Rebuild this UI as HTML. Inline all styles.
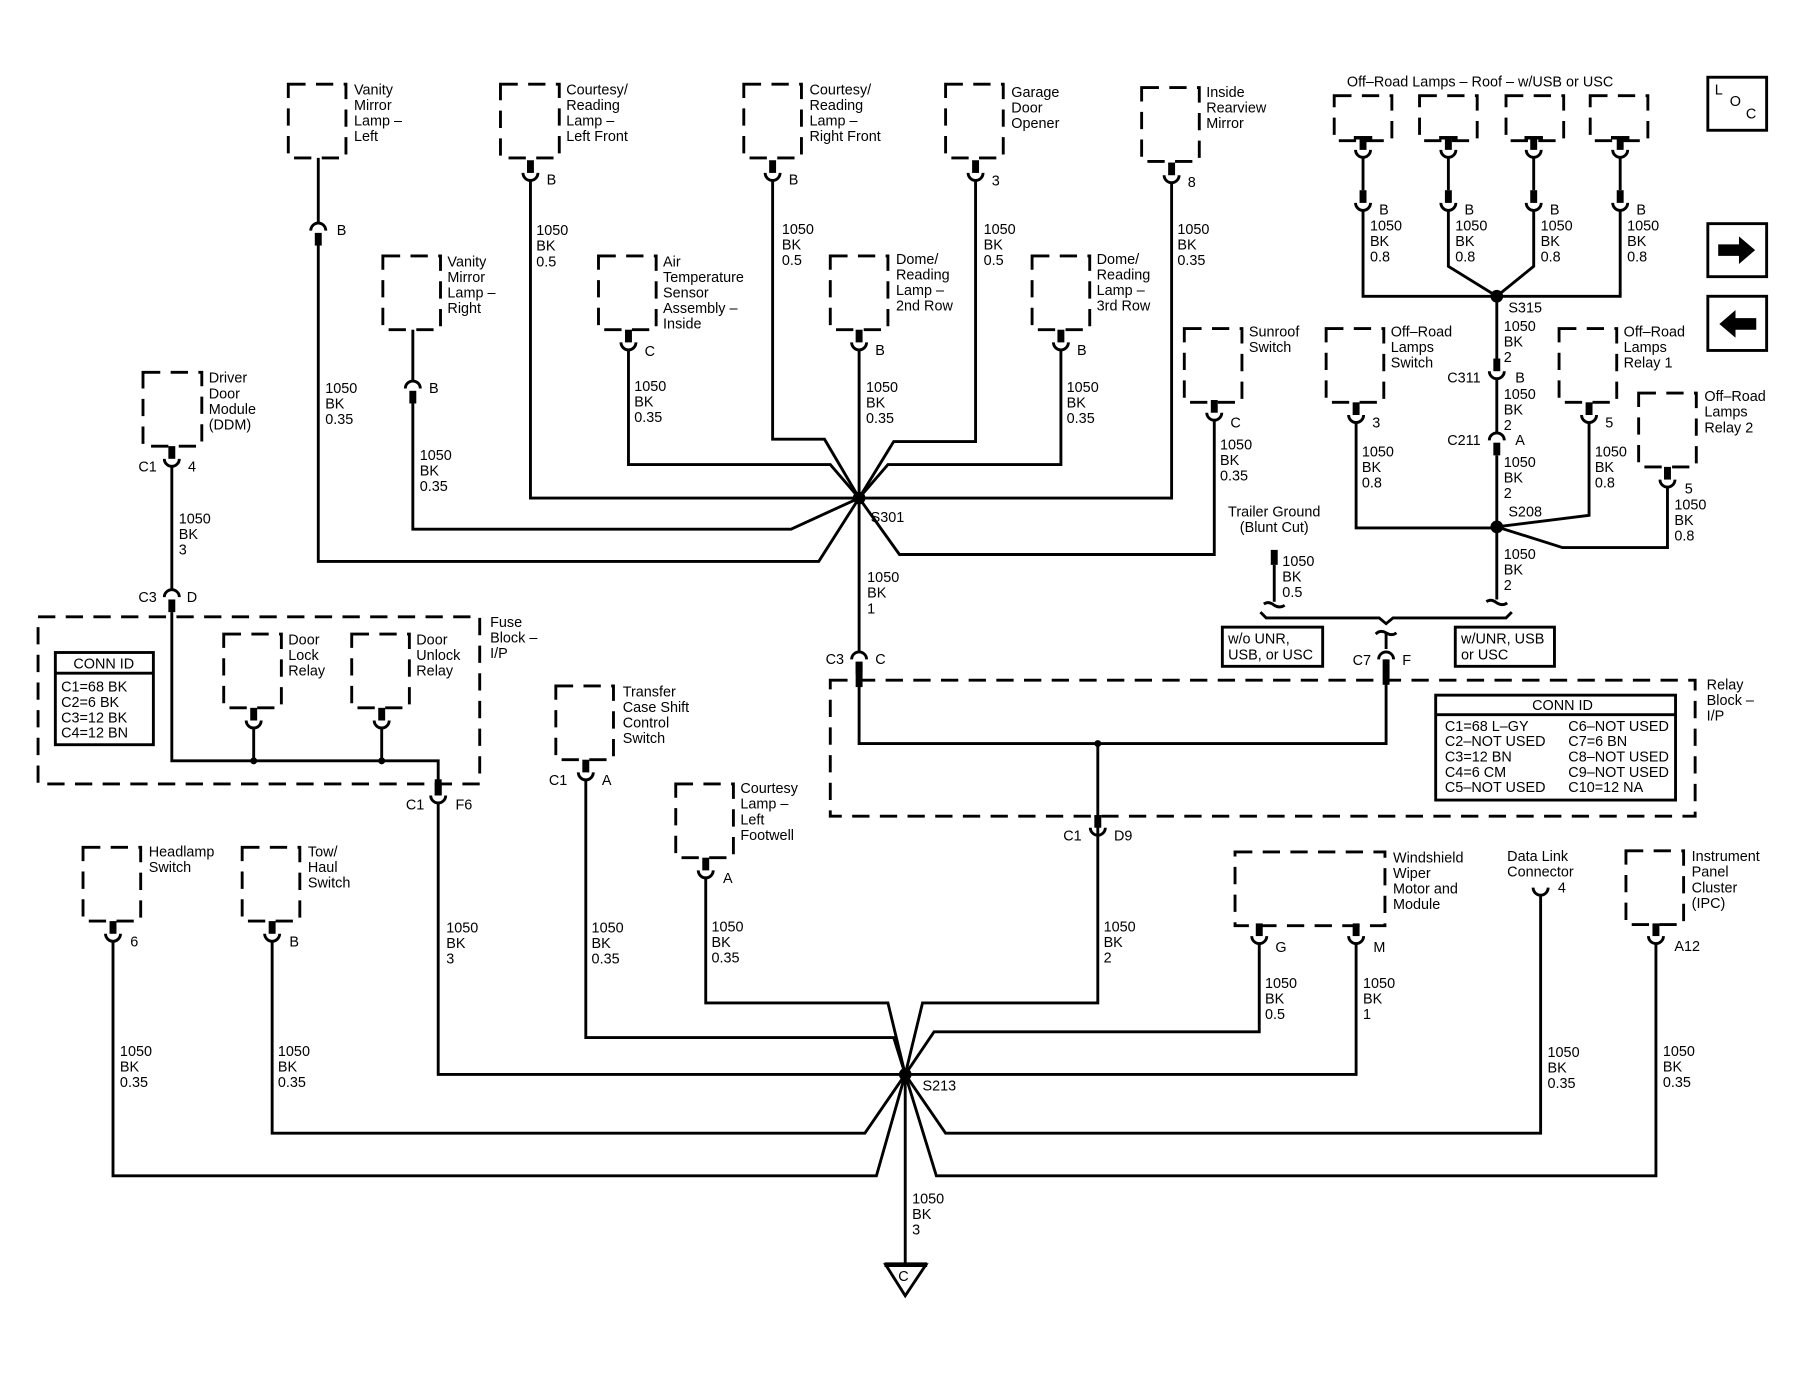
<!DOCTYPE html>
<html><head><meta charset="utf-8"><style>
html,body{margin:0;padding:0;background:#fff}
svg{display:block}
text{font-family:"Liberation Sans",Arial,sans-serif;font-size:12.5px;fill:#000}
</style></head><body>
<svg width="1807" height="1373" viewBox="0 0 1567 1191" preserveAspectRatio="none" xmlns="http://www.w3.org/2000/svg">
<defs>
<g id="U"><rect x="-3" y="-11" width="6" height="11"/><path d="M-6.5,0 A6.5,6.5 0 0 0 6.5,0" fill="none" stroke="#000" stroke-width="2.5"/></g>
<g id="UT"><rect x="-3" y="-11" width="6" height="11"/><rect x="-8" y="-12" width="16" height="3"/><path d="M-6.5,0 A6.5,6.5 0 0 0 6.5,0" fill="none" stroke="#000" stroke-width="2.5"/></g>
<g id="N"><path d="M-6.5,0 A6.5,6.5 0 0 1 6.5,0" fill="none" stroke="#000" stroke-width="2.5"/><rect x="-3" y="2" width="6" height="11"/></g>
</defs>
<g fill="none" stroke="#000" stroke-width="2.5" stroke-dasharray="15 9">
<rect x="250" y="73" width="50" height="64"/>
<rect x="434" y="73" width="51" height="64"/>
<rect x="645" y="73" width="50" height="64"/>
<rect x="820" y="73" width="50" height="64"/>
<rect x="990" y="76" width="50" height="64"/>
<rect x="332" y="222" width="50" height="64"/>
<rect x="519" y="222" width="50" height="64"/>
<rect x="720" y="222" width="50" height="64"/>
<rect x="895" y="222" width="50" height="64"/>
<rect x="1027" y="285" width="50" height="64"/>
<rect x="1150" y="285" width="50" height="64"/>
<rect x="1352" y="285" width="50" height="64"/>
<rect x="1421" y="341" width="50" height="64"/>
<rect x="1157" y="83" width="50" height="39"/>
<rect x="1231" y="83" width="50" height="39"/>
<rect x="1306" y="83" width="50" height="39"/>
<rect x="1379" y="83" width="50" height="39"/>
<rect x="124" y="323" width="51" height="64"/>
<rect x="33" y="535" width="383" height="145"/>
<rect x="194" y="550" width="50" height="64"/>
<rect x="305" y="550" width="50" height="64"/>
<rect x="482" y="595" width="50" height="64"/>
<rect x="586" y="680" width="50" height="64"/>
<rect x="72" y="735" width="50" height="64"/>
<rect x="210" y="735" width="50" height="64"/>
<rect x="1071" y="739" width="130" height="64"/>
<rect x="1410" y="738" width="50" height="64"/>
<rect x="720" y="590" width="750" height="118"/>
</g>
<g fill="none" stroke="#000" stroke-width="2.5" stroke-linejoin="miter">
<polyline points="276,137 276,194"/>
<polyline points="276,213 276,487 710,487 745,432"/>
<polyline points="460,156 460,432 745,432"/>
<polyline points="358,286 358,331"/>
<polyline points="358,350 358,459 686,459 745,432"/>
<polyline points="545,303 545,403 720,403 745,432"/>
<polyline points="670,156 670,381 715,381 745,432"/>
<polyline points="745,303 745,566"/>
<polyline points="846,156 846,383 775,383 745,432"/>
<polyline points="920,303 920,403 770,403 745,432"/>
<polyline points="1016,158 1016,432 745,432"/>
<polyline points="1053,364 1053,481 780,481 745,432"/>
<polyline points="745,585 745,645 1202,645 1202,572"/>
<polyline points="1202,563 1202,549"/>
<polyline points="952,645 952,724 952,870 800,870 785,932"/>
<polyline points="149,404 149,512"/>
<polyline points="149,531 149,660 380,660 380,680"/>
<polyline points="220,631 220,660"/>
<polyline points="331,631 331,660"/>
<polyline points="380,696 380,932 785,932"/>
<polyline points="508,676 508,900 775,900 785,932"/>
<polyline points="612,761 612,870 770,870 785,932"/>
<polyline points="98,816 98,1020 760,1020 785,932"/>
<polyline points="236,816 236,983 750,983 785,932"/>
<polyline points="1092,818 1092,895 810,895 785,932"/>
<polyline points="1176,818 1176,932 785,932"/>
<polyline points="1336,776 1336,983 820,983 785,932"/>
<polyline points="1436,818 1436,1020 812,1020 785,932"/>
<polyline points="785,932 785,1096"/>
<path d="M1329.5,770 A6.5,6.5 0 0 0 1342.5,770"/>
<polyline points="1182,136 1182,165"/>
<polyline points="1256,136 1256,165"/>
<polyline points="1330,136 1330,165"/>
<polyline points="1405,136 1405,165"/>
<polyline points="1182,182 1182,257 1405,257 1405,182"/>
<polyline points="1256,182 1256,231 1298,257 1330,231 1330,182"/>
<polyline points="1298,257 1298,311"/>
<polyline points="1298,328 1298,376"/>
<polyline points="1298,395 1298,520"/>
<polyline points="1176,366 1176,458 1298,458"/>
<polyline points="1378,366 1378,447 1298,457"/>
<polyline points="1446,422 1446,475 1355,475 1298,457"/>
<polyline points="1105,490 1105,522"/>
<path d="M1096,524 q4,-3 9,1 q5,3 9,0"/>
<path d="M1289,522 q4,-3 9,1 q5,3 9,0"/>
<path d="M1193,550 q4,-4 9,-1 q5,3 9,0"/>
<polyline points="1093,531 1098,536 1196,536 1202,541 1208,536 1306,536 1311,531"/>
<polygon points="768,1097 803,1097 785,1124"/>
<line x1="767" y1="1097" x2="804" y2="1097" stroke-width="4"/>
<rect x="1481" y="67" width="51" height="46"/>
<rect x="1481" y="194" width="51" height="46"/>
<rect x="1481" y="257" width="51" height="47"/>
<rect x="48" y="566" width="85" height="80"/>
<line x1="48" y1="584" x2="133" y2="584"/>
<rect x="1245" y="603" width="208" height="91"/>
<line x1="1245" y1="620" x2="1453" y2="620"/>
</g>
<rect x="1102" y="477" width="6" height="13"/>
<rect x="742" y="574" width="6" height="22"/>
<rect x="1199" y="572" width="6" height="22"/>
<rect x="377" y="676" width="6" height="14"/>
<rect x="949" y="707" width="6" height="11"/>
<path d="M945.5,718 A6.5,6.5 0 0 0 958.5,718" fill="none" stroke="#000" stroke-width="2.5"/>
<use href="#N" x="276" y="200"/>
<use href="#U" x="460" y="150"/>
<use href="#N" x="358" y="337"/>
<use href="#U" x="545" y="297"/>
<use href="#U" x="670" y="150"/>
<use href="#U" x="745" y="297"/>
<use href="#U" x="846" y="150"/>
<use href="#U" x="920" y="297"/>
<use href="#U" x="1016" y="152"/>
<use href="#U" x="1053" y="358"/>
<use href="#N" x="745" y="572"/>
<path d="M1195.5,572 A6.5,6.5 0 0 1 1208.5,572" fill="none" stroke="#000" stroke-width="2.5"/>
<use href="#U" x="149" y="398"/>
<use href="#N" x="149" y="518"/>
<use href="#U" x="220" y="625"/>
<use href="#U" x="331" y="625"/>
<use href="#U" x="380" y="690"/>
<use href="#U" x="508" y="670"/>
<use href="#U" x="612" y="755"/>
<use href="#U" x="98" y="810"/>
<use href="#U" x="236" y="810"/>
<use href="#U" x="1092" y="812"/>
<use href="#U" x="1176" y="812"/>
<use href="#U" x="1436" y="812"/>
<use href="#UT" x="1182" y="130"/>
<use href="#UT" x="1256" y="130"/>
<use href="#UT" x="1330" y="130"/>
<use href="#UT" x="1405" y="130"/>
<use href="#U" x="1182" y="176"/>
<use href="#U" x="1256" y="176"/>
<use href="#U" x="1330" y="176"/>
<use href="#U" x="1405" y="176"/>
<use href="#U" x="1298" y="322"/>
<use href="#N" x="1298" y="382"/>
<use href="#U" x="1176" y="360"/>
<use href="#U" x="1378" y="360"/>
<use href="#U" x="1446" y="416"/>
<g>
<circle cx="745" cy="432" r="5.5"/><circle cx="785" cy="932" r="5.5"/>
<circle cx="1298" cy="257" r="5.5"/><circle cx="1298" cy="457" r="5.5"/>
<circle cx="952" cy="645" r="3"/><circle cx="220" cy="660" r="3"/><circle cx="331" cy="660" r="3"/>
<polygon points="1490,212 1508,212 1508,205 1522,217 1508,229 1508,222 1490,222"/>
<polygon points="1523,276 1505,276 1505,269 1491,281 1505,293 1505,286 1523,286"/>
</g>
<g>
<text x="1487" y="82">L</text><text x="1500" y="92">O</text><text x="1514" y="103">C</text>
<text x="307" y="82"><tspan x="307">Vanity</tspan><tspan x="307" dy="13.5">Mirror</tspan><tspan x="307" dy="13.5">Lamp –</tspan><tspan x="307" dy="13.5">Left</tspan></text>
<text x="491" y="82"><tspan x="491">Courtesy/</tspan><tspan x="491" dy="13.5">Reading</tspan><tspan x="491" dy="13.5">Lamp –</tspan><tspan x="491" dy="13.5">Left Front</tspan></text>
<text x="702" y="82"><tspan x="702">Courtesy/</tspan><tspan x="702" dy="13.5">Reading</tspan><tspan x="702" dy="13.5">Lamp –</tspan><tspan x="702" dy="13.5">Right Front</tspan></text>
<text x="877" y="84"><tspan x="877">Garage</tspan><tspan x="877" dy="13.5">Door</tspan><tspan x="877" dy="13.5">Opener</tspan></text>
<text x="1046" y="84"><tspan x="1046">Inside</tspan><tspan x="1046" dy="13.5">Rearview</tspan><tspan x="1046" dy="13.5">Mirror</tspan></text>
<text x="388" y="231"><tspan x="388">Vanity</tspan><tspan x="388" dy="13.5">Mirror</tspan><tspan x="388" dy="13.5">Lamp –</tspan><tspan x="388" dy="13.5">Right</tspan></text>
<text x="575" y="231"><tspan x="575">Air</tspan><tspan x="575" dy="13.5">Temperature</tspan><tspan x="575" dy="13.5">Sensor</tspan><tspan x="575" dy="13.5">Assembly –</tspan><tspan x="575" dy="13.5">Inside</tspan></text>
<text x="777" y="229"><tspan x="777">Dome/</tspan><tspan x="777" dy="13.5">Reading</tspan><tspan x="777" dy="13.5">Lamp –</tspan><tspan x="777" dy="13.5">2nd Row</tspan></text>
<text x="951" y="229"><tspan x="951">Dome/</tspan><tspan x="951" dy="13.5">Reading</tspan><tspan x="951" dy="13.5">Lamp –</tspan><tspan x="951" dy="13.5">3rd Row</tspan></text>
<text x="1083" y="292"><tspan x="1083">Sunroof</tspan><tspan x="1083" dy="13.5">Switch</tspan></text>
<text x="1206" y="292"><tspan x="1206">Off–Road</tspan><tspan x="1206" dy="13.5">Lamps</tspan><tspan x="1206" dy="13.5">Switch</tspan></text>
<text x="1408" y="292"><tspan x="1408">Off–Road</tspan><tspan x="1408" dy="13.5">Lamps</tspan><tspan x="1408" dy="13.5">Relay 1</tspan></text>
<text x="1478" y="348"><tspan x="1478">Off–Road</tspan><tspan x="1478" dy="13.5">Lamps</tspan><tspan x="1478" dy="13.5">Relay 2</tspan></text>
<text x="1168" y="75">Off–Road Lamps – Roof – w/USB or USC</text>
<text x="181" y="332"><tspan x="181">Driver</tspan><tspan x="181" dy="13.5">Door</tspan><tspan x="181" dy="13.5">Module</tspan><tspan x="181" dy="13.5">(DDM)</tspan></text>
<text x="425" y="544"><tspan x="425">Fuse</tspan><tspan x="425" dy="13.5">Block –</tspan><tspan x="425" dy="13.5">I/P</tspan></text>
<text x="250" y="559"><tspan x="250">Door</tspan><tspan x="250" dy="13.5">Lock</tspan><tspan x="250" dy="13.5">Relay</tspan></text>
<text x="361" y="559"><tspan x="361">Door</tspan><tspan x="361" dy="13.5">Unlock</tspan><tspan x="361" dy="13.5">Relay</tspan></text>
<text x="540" y="604"><tspan x="540">Transfer</tspan><tspan x="540" dy="13.5">Case Shift</tspan><tspan x="540" dy="13.5">Control</tspan><tspan x="540" dy="13.5">Switch</tspan></text>
<text x="642" y="688"><tspan x="642">Courtesy</tspan><tspan x="642" dy="13.5">Lamp –</tspan><tspan x="642" dy="13.5">Left</tspan><tspan x="642" dy="13.5">Footwell</tspan></text>
<text x="129" y="743"><tspan x="129">Headlamp</tspan><tspan x="129" dy="13.5">Switch</tspan></text>
<text x="267" y="743"><tspan x="267">Tow/</tspan><tspan x="267" dy="13.5">Haul</tspan><tspan x="267" dy="13.5">Switch</tspan></text>
<text x="1208" y="748"><tspan x="1208">Windshield</tspan><tspan x="1208" dy="13.5">Wiper</tspan><tspan x="1208" dy="13.5">Motor and</tspan><tspan x="1208" dy="13.5">Module</tspan></text>
<text x="1307" y="747"><tspan x="1307">Data Link</tspan><tspan x="1307" dy="13.5">Connector</tspan></text>
<text x="1467" y="747"><tspan x="1467">Instrument</tspan><tspan x="1467" dy="13.5">Panel</tspan><tspan x="1467" dy="13.5">Cluster</tspan><tspan x="1467" dy="13.5">(IPC)</tspan></text>
<text x="1480" y="598"><tspan x="1480">Relay</tspan><tspan x="1480" dy="13.5">Block –</tspan><tspan x="1480" dy="13.5">I/P</tspan></text>
<text x="1105" y="448" text-anchor="middle"><tspan x="1105">Trailer Ground</tspan><tspan x="1105" dy="13.5">(Blunt Cut)</tspan></text>
<text x="1065" y="558"><tspan x="1065">w/o UNR,</tspan><tspan x="1065" dy="14">USB, or USC</tspan></text>
<text x="1267" y="558"><tspan x="1267">w/UNR, USB</tspan><tspan x="1267" dy="14">or USC</tspan></text>
<text x="90" y="580" text-anchor="middle">CONN ID</text>
<text x="53" y="600"><tspan x="53">C1=68 BK</tspan><tspan x="53" dy="13.3">C2=6 BK</tspan><tspan x="53" dy="13.3">C3=12 BK</tspan><tspan x="53" dy="13.3">C4=12 BN</tspan></text>
<text x="1355" y="616" text-anchor="middle">CONN ID</text>
<text x="1253" y="634"><tspan x="1253">C1=68 L–GY</tspan><tspan x="1253" dy="13.3">C2–NOT USED</tspan><tspan x="1253" dy="13.3">C3=12 BN</tspan><tspan x="1253" dy="13.3">C4=6 CM</tspan><tspan x="1253" dy="13.3">C5–NOT USED</tspan></text>
<text x="1360" y="634"><tspan x="1360">C6–NOT USED</tspan><tspan x="1360" dy="13.3">C7=6 BN</tspan><tspan x="1360" dy="13.3">C8–NOT USED</tspan><tspan x="1360" dy="13.3">C9–NOT USED</tspan><tspan x="1360" dy="13.3">C10=12 NA</tspan></text>
<text x="292" y="204">B</text><text x="474" y="160">B</text><text x="372" y="341">B</text>
<text x="559" y="309">C</text><text x="684" y="160">B</text><text x="759" y="308">B</text>
<text x="860" y="161">3</text><text x="934" y="308">B</text><text x="1030" y="162">8</text>
<text x="1067" y="371">C</text>
<text x="755" y="453">S301</text><text x="800" y="946">S213</text>
<text x="1308" y="271">S315</text><text x="1308" y="448">S208</text>
<text x="716" y="576">C3</text><text x="759" y="576">C</text>
<text x="1173" y="577">C7</text><text x="1216" y="577">F</text>
<text x="922" y="729">C1</text><text x="966" y="729">D9</text>
<text x="120" y="409">C1</text><text x="163" y="409">4</text>
<text x="120" y="522">C3</text><text x="162" y="522">D</text>
<text x="352" y="702">C1</text><text x="395" y="702">F6</text>
<text x="476" y="681">C1</text><text x="522" y="681">A</text>
<text x="627" y="766">A</text><text x="113" y="821">6</text><text x="251" y="821">B</text>
<text x="1106" y="826">G</text><text x="1191" y="826">M</text><text x="1351" y="774">4</text><text x="1452" y="825">A12</text>
<text x="1196" y="186">B</text><text x="1270" y="186">B</text><text x="1344" y="186">B</text><text x="1419" y="186">B</text>
<text x="1255" y="332">C311</text><text x="1314" y="332">B</text>
<text x="1255" y="386">C211</text><text x="1314" y="386">A</text>
<text x="1190" y="371">3</text><text x="1392" y="371">5</text><text x="1461" y="428">5</text>
<text x="779" y="1111">C</text>
</g>
<g>
<text><tspan x="282" y="341">1050</tspan><tspan x="282" dy="13.5">BK</tspan><tspan x="282" dy="13.5">0.35</tspan></text>
<text><tspan x="465" y="204">1050</tspan><tspan x="465" dy="13.5">BK</tspan><tspan x="465" dy="13.5">0.5</tspan></text>
<text><tspan x="364" y="399">1050</tspan><tspan x="364" dy="13.5">BK</tspan><tspan x="364" dy="13.5">0.35</tspan></text>
<text><tspan x="550" y="339">1050</tspan><tspan x="550" dy="13.5">BK</tspan><tspan x="550" dy="13.5">0.35</tspan></text>
<text><tspan x="678" y="203">1050</tspan><tspan x="678" dy="13.5">BK</tspan><tspan x="678" dy="13.5">0.5</tspan></text>
<text><tspan x="751" y="340">1050</tspan><tspan x="751" dy="13.5">BK</tspan><tspan x="751" dy="13.5">0.35</tspan></text>
<text><tspan x="853" y="203">1050</tspan><tspan x="853" dy="13.5">BK</tspan><tspan x="853" dy="13.5">0.5</tspan></text>
<text><tspan x="925" y="340">1050</tspan><tspan x="925" dy="13.5">BK</tspan><tspan x="925" dy="13.5">0.35</tspan></text>
<text><tspan x="1021" y="203">1050</tspan><tspan x="1021" dy="13.5">BK</tspan><tspan x="1021" dy="13.5">0.35</tspan></text>
<text><tspan x="1058" y="390">1050</tspan><tspan x="1058" dy="13.5">BK</tspan><tspan x="1058" dy="13.5">0.35</tspan></text>
<text><tspan x="752" y="505">1050</tspan><tspan x="752" dy="13.5">BK</tspan><tspan x="752" dy="13.5">1</tspan></text>
<text><tspan x="155" y="454">1050</tspan><tspan x="155" dy="13.5">BK</tspan><tspan x="155" dy="13.5">3</tspan></text>
<text><tspan x="387" y="809">1050</tspan><tspan x="387" dy="13.5">BK</tspan><tspan x="387" dy="13.5">3</tspan></text>
<text><tspan x="513" y="809">1050</tspan><tspan x="513" dy="13.5">BK</tspan><tspan x="513" dy="13.5">0.35</tspan></text>
<text><tspan x="617" y="808">1050</tspan><tspan x="617" dy="13.5">BK</tspan><tspan x="617" dy="13.5">0.35</tspan></text>
<text><tspan x="957" y="808">1050</tspan><tspan x="957" dy="13.5">BK</tspan><tspan x="957" dy="13.5">2</tspan></text>
<text><tspan x="104" y="916">1050</tspan><tspan x="104" dy="13.5">BK</tspan><tspan x="104" dy="13.5">0.35</tspan></text>
<text><tspan x="241" y="916">1050</tspan><tspan x="241" dy="13.5">BK</tspan><tspan x="241" dy="13.5">0.35</tspan></text>
<text><tspan x="1097" y="857">1050</tspan><tspan x="1097" dy="13.5">BK</tspan><tspan x="1097" dy="13.5">0.5</tspan></text>
<text><tspan x="1182" y="857">1050</tspan><tspan x="1182" dy="13.5">BK</tspan><tspan x="1182" dy="13.5">1</tspan></text>
<text><tspan x="1342" y="917">1050</tspan><tspan x="1342" dy="13.5">BK</tspan><tspan x="1342" dy="13.5">0.35</tspan></text>
<text><tspan x="1442" y="916">1050</tspan><tspan x="1442" dy="13.5">BK</tspan><tspan x="1442" dy="13.5">0.35</tspan></text>
<text><tspan x="791" y="1044">1050</tspan><tspan x="791" dy="13.5">BK</tspan><tspan x="791" dy="13.5">3</tspan></text>
<text><tspan x="1188" y="200">1050</tspan><tspan x="1188" dy="13.5">BK</tspan><tspan x="1188" dy="13.5">0.8</tspan></text>
<text><tspan x="1262" y="200">1050</tspan><tspan x="1262" dy="13.5">BK</tspan><tspan x="1262" dy="13.5">0.8</tspan></text>
<text><tspan x="1336" y="200">1050</tspan><tspan x="1336" dy="13.5">BK</tspan><tspan x="1336" dy="13.5">0.8</tspan></text>
<text><tspan x="1411" y="200">1050</tspan><tspan x="1411" dy="13.5">BK</tspan><tspan x="1411" dy="13.5">0.8</tspan></text>
<text><tspan x="1304" y="287">1050</tspan><tspan x="1304" dy="13.5">BK</tspan><tspan x="1304" dy="13.5">2</tspan></text>
<text><tspan x="1304" y="346">1050</tspan><tspan x="1304" dy="13.5">BK</tspan><tspan x="1304" dy="13.5">2</tspan></text>
<text><tspan x="1304" y="405">1050</tspan><tspan x="1304" dy="13.5">BK</tspan><tspan x="1304" dy="13.5">2</tspan></text>
<text><tspan x="1304" y="485">1050</tspan><tspan x="1304" dy="13.5">BK</tspan><tspan x="1304" dy="13.5">2</tspan></text>
<text><tspan x="1181" y="396">1050</tspan><tspan x="1181" dy="13.5">BK</tspan><tspan x="1181" dy="13.5">0.8</tspan></text>
<text><tspan x="1383" y="396">1050</tspan><tspan x="1383" dy="13.5">BK</tspan><tspan x="1383" dy="13.5">0.8</tspan></text>
<text><tspan x="1452" y="442">1050</tspan><tspan x="1452" dy="13.5">BK</tspan><tspan x="1452" dy="13.5">0.8</tspan></text>
<text><tspan x="1112" y="491">1050</tspan><tspan x="1112" dy="13.5">BK</tspan><tspan x="1112" dy="13.5">0.5</tspan></text>
</g>
<g fill="none" stroke="#000" stroke-width="2.5">
<rect x="1060" y="544" width="87" height="34"/>
<rect x="1262" y="544" width="86" height="34"/>
</g>
</svg>
</body></html>
